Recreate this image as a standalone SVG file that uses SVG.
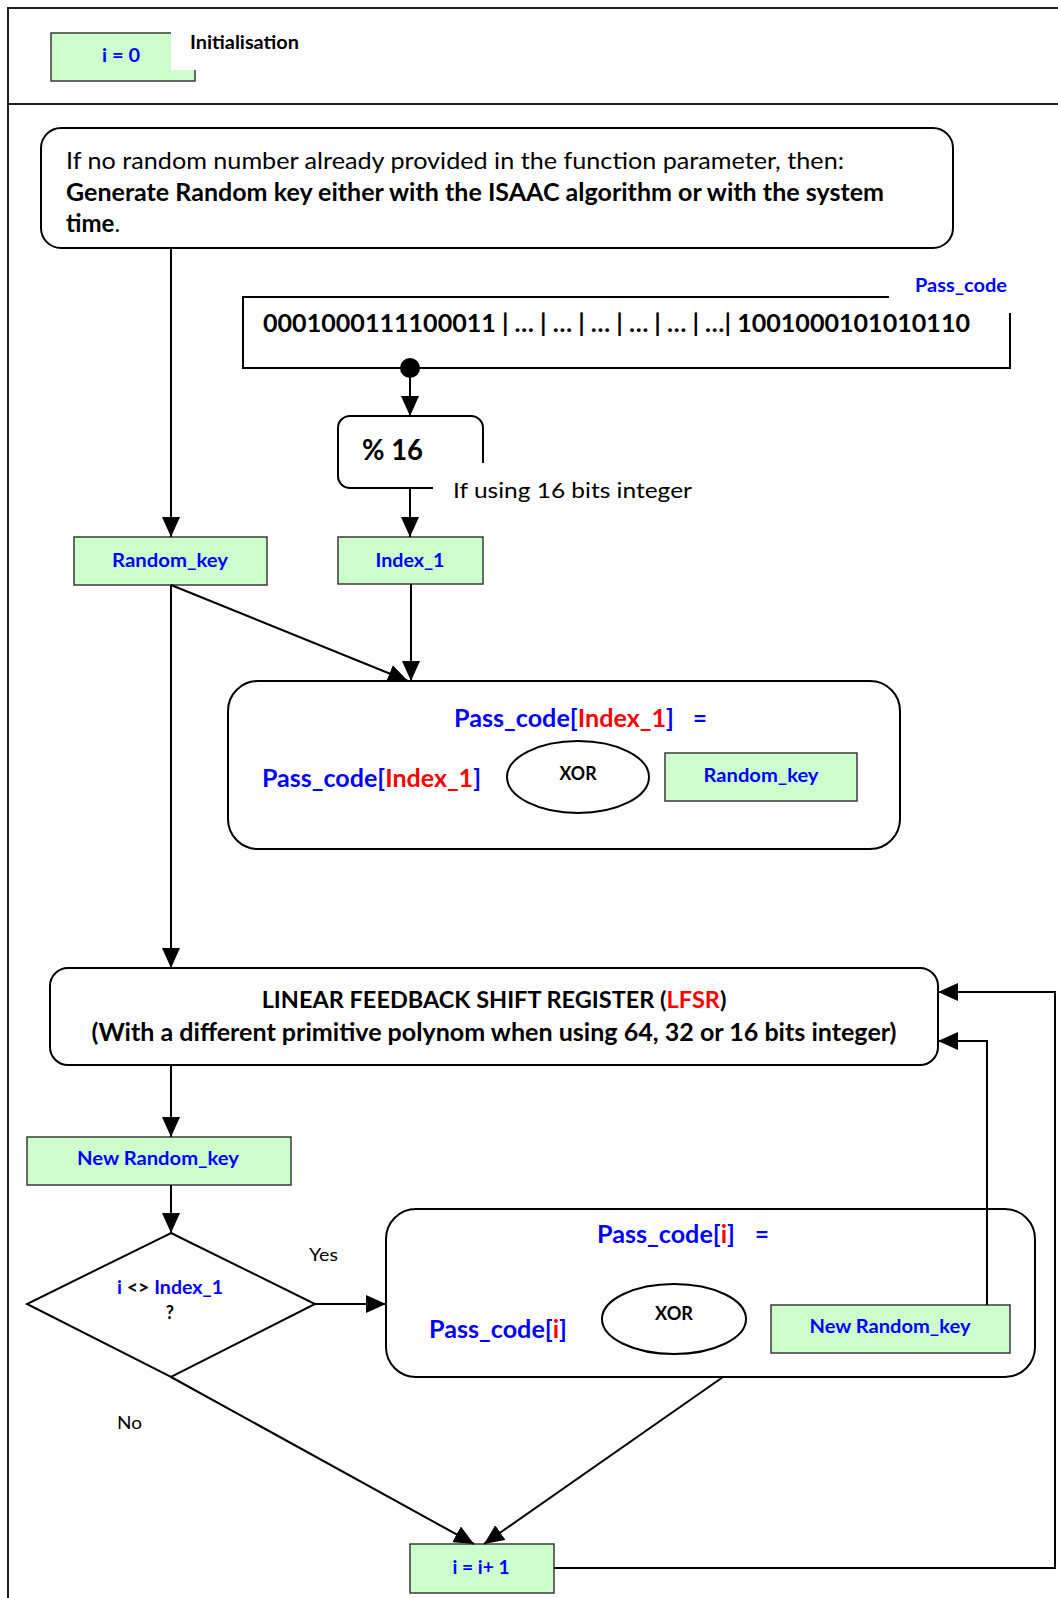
<svg xmlns="http://www.w3.org/2000/svg" width="1058" height="1598" viewBox="0 0 1058 1598">
<style>
text{font-family:Lato,"Liberation Sans",sans-serif;fill:#000}
.b{font-weight:bold}
.blue{fill:#0000ff}
.red{fill:#ff0000}
.c{text-anchor:middle}
.g{fill:#ccffcc;stroke:#3a3a3a;stroke-width:1.5}
.rb{fill:#fff;stroke:#000;stroke-width:2}
.ln{fill:none;stroke:#000;stroke-width:2}
.frame{fill:none;stroke:#222;stroke-width:2}
</style>
<defs>
<marker id="ah" markerUnits="userSpaceOnUse" markerWidth="20" markerHeight="18" viewBox="0 0 20 18" refX="20" refY="9" orient="auto"><path d="M0,0 L20,9 L0,18 z" fill="#000"/></marker>
</defs>
<rect width="1058" height="1598" fill="#fff"/>
<g id="frame">
<path class="frame" d="M1058,8 L8,8 L8,1598 M8,104 L1058,104"/>
</g>
<g id="init">
<polygon points="51,33 171,33 171,70 195,70 195,81 51,81" fill="#ccffcc"/>
<path d="M171,33 L51,33 L51,81 L195,81 L195,70" fill="none" stroke="#3a3a3a" stroke-width="1.5"/>
<text class="b blue c" x="121" y="62" font-size="18" textLength="38" lengthAdjust="spacingAndGlyphs">i = 0</text>
<text class="b" x="190" y="49" font-size="18" textLength="109" lengthAdjust="spacingAndGlyphs">Initialisation</text>
</g>
<g id="generate">
<rect class="rb" x="41" y="128" width="912" height="120" rx="20"/>
<text x="66" y="169" font-size="24" textLength="778" lengthAdjust="spacingAndGlyphs">If no random number already provided in the function parameter, then:</text>
<text class="b" x="66" y="201" font-size="24" textLength="818" lengthAdjust="spacingAndGlyphs">Generate Random key either with the ISAAC algorithm or with the system</text>
<text x="66" y="232" font-size="24"><tspan class="b">time</tspan>.</text>
</g>
<g id="passcode">
<path class="ln" d="M889,297 L243,297 L243,368 L1010,368 L1010,313"/>
<text class="b blue" x="915" y="292" font-size="18" textLength="92" lengthAdjust="spacingAndGlyphs">Pass_code</text>
<text class="b" x="263" y="332" font-size="24" textLength="707" lengthAdjust="spacingAndGlyphs">0001000111100011 | … | … | … | … | … | …| 1001000101010110</text>
<circle cx="410" cy="368" r="10" fill="#000"/>
</g>
<g id="mod16">
<path class="rb" d="M433,488 L350,488 A12,12 0 0 1 338,476 L338,428 A12,12 0 0 1 350,416 L471,416 A12,12 0 0 1 483,428 L483,463"/>
<text class="b" x="362" y="460" font-size="28" textLength="61" lengthAdjust="spacingAndGlyphs">% 16</text>
<text x="453" y="498" font-size="22" textLength="239" lengthAdjust="spacingAndGlyphs">If using 16 bits integer</text>
</g>
<g id="random_key">
<rect class="g" x="74" y="537" width="193" height="48"/>
<text class="b blue c" x="170" y="567" font-size="18" textLength="116" lengthAdjust="spacingAndGlyphs">Random_key</text>
</g>
<g id="index_1">
<rect class="g" x="338" y="537" width="145" height="47"/>
<text class="b blue c" x="410" y="567" font-size="18" textLength="69" lengthAdjust="spacingAndGlyphs">Index_1</text>
</g>
<g id="xor1">
<rect class="rb" x="228" y="681" width="672" height="168" rx="30"/>
<text class="b blue" x="454" y="727" font-size="24" textLength="220" lengthAdjust="spacingAndGlyphs">Pass_code[<tspan class="red">Index_1</tspan>]</text>
<text class="b blue" x="693" y="727" font-size="24">=</text>
<text class="b blue" x="262" y="787" font-size="24" textLength="219" lengthAdjust="spacingAndGlyphs">Pass_code[<tspan class="red">Index_1</tspan>]</text>
<ellipse cx="578" cy="777" rx="71" ry="36" fill="#fff" stroke="#000" stroke-width="2"/>
<text class="b c" x="578" y="780" font-size="18" textLength="37" lengthAdjust="spacingAndGlyphs">XOR</text>
<rect class="g" x="665" y="753" width="192" height="48"/>
<text class="b blue c" x="761" y="782" font-size="18" textLength="115" lengthAdjust="spacingAndGlyphs">Random_key</text>
</g>
<g id="lfsr">
<rect class="rb" x="50" y="968" width="888" height="97" rx="18"/>
<text class="b c" x="494" y="1008" font-size="23.5">LINEAR FEEDBACK SHIFT REGISTER (<tspan class="red">LFSR</tspan>)</text>
<text class="b c" x="494" y="1041" font-size="24" textLength="805" lengthAdjust="spacingAndGlyphs">(With a different primitive polynom when using 64, 32 or 16 bits integer)</text>
</g>
<g id="new_random_key">
<rect class="g" x="27" y="1137" width="264" height="48"/>
<text class="b blue c" x="158" y="1165" font-size="18" textLength="162" lengthAdjust="spacingAndGlyphs">New Random_key</text>
</g>
<g id="decision">
<polygon points="171,1233 315,1304 171,1377 27,1304" fill="#fff" stroke="#000" stroke-width="2"/>
<text class="b blue c" x="170" y="1294" font-size="18" textLength="106" lengthAdjust="spacingAndGlyphs">i <tspan fill="#000">&lt;&gt;</tspan> Index_1</text>
<text class="b c" x="170" y="1319" font-size="18">?</text>
</g>
<g id="xor2">
<rect class="rb" x="386" y="1209" width="649" height="168" rx="30"/>
<text class="b blue" x="597" y="1243" font-size="24" textLength="138" lengthAdjust="spacingAndGlyphs">Pass_code[<tspan class="red">i</tspan>]</text>
<text class="b blue" x="755" y="1243" font-size="24">=</text>
<text class="b blue" x="429" y="1338" font-size="24" textLength="138" lengthAdjust="spacingAndGlyphs">Pass_code[<tspan class="red">i</tspan>]</text>
<ellipse cx="674" cy="1319" rx="72" ry="35" fill="#fff" stroke="#000" stroke-width="2"/>
<text class="b c" x="674" y="1320" font-size="18" textLength="38" lengthAdjust="spacingAndGlyphs">XOR</text>
<rect class="g" x="771" y="1305" width="239" height="48"/>
<text class="b blue c" x="890" y="1333" font-size="18" textLength="161" lengthAdjust="spacingAndGlyphs">New Random_key</text>
</g>
<g id="increment">
<rect class="g" x="410" y="1544" width="144" height="49"/>
<text class="b blue c" x="481" y="1574" font-size="18" textLength="57" lengthAdjust="spacingAndGlyphs">i = i+ 1</text>
</g>
<g id="connectors">
<path class="ln" marker-end="url(#ah)" d="M171,248 L171,537"/>
<path class="ln" marker-end="url(#ah)" d="M410,368 L410,416"/>
<path class="ln" marker-end="url(#ah)" d="M410,488 L410,537"/>
<path class="ln" marker-end="url(#ah)" d="M171,585 L408,681"/>
<path class="ln" marker-end="url(#ah)" d="M411,584 L411,681"/>
<path class="ln" marker-end="url(#ah)" d="M171,585 L171,968"/>
<path class="ln" marker-end="url(#ah)" d="M171,1065 L171,1137"/>
<path class="ln" marker-end="url(#ah)" d="M171,1185 L171,1233"/>
<path class="ln" marker-end="url(#ah)" d="M315,1304 L386,1304"/>
<path class="ln" marker-end="url(#ah)" d="M171,1377 L474,1544"/>
<path class="ln" marker-end="url(#ah)" d="M723,1377 L484,1544"/>
<path class="ln" marker-end="url(#ah)" d="M554,1568 L1055,1568 L1055,992 L938,992"/>
<path class="ln" marker-end="url(#ah)" d="M987,1305 L987,1041 L938,1041"/>
<text x="309" y="1261" font-size="18" textLength="29" lengthAdjust="spacingAndGlyphs">Yes</text>
<text x="117" y="1429" font-size="18" textLength="25" lengthAdjust="spacingAndGlyphs">No</text>
</g>
</svg>
